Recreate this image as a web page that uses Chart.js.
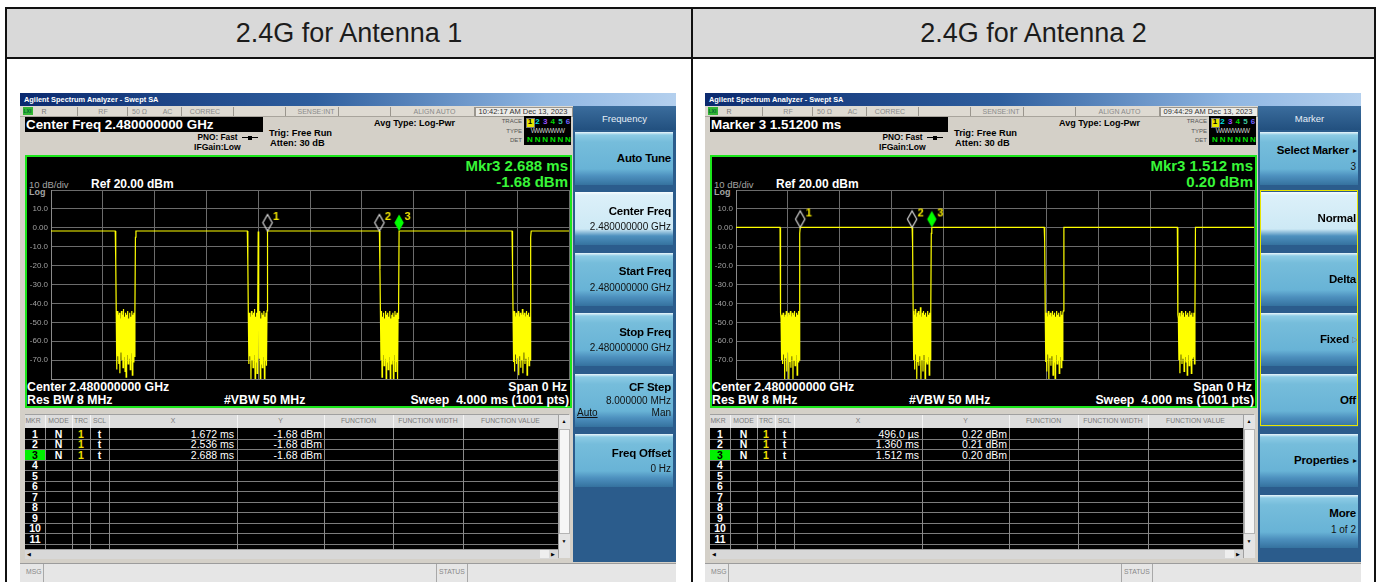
<!DOCTYPE html>
<html>
<head>
<meta charset="utf-8">
<title>2.4G Antenna 1 / Antenna 2</title>
<script src="https://cdn.jsdelivr.net/npm/chart.js@4.4.1/dist/chart.umd.min.js"></script>
<style>
html, body { margin: 0; padding: 0; background: #fff; }
body { position: relative; width: 1381px; height: 582px; overflow: hidden; font-family: "Liberation Sans", Arial, sans-serif; }
.frame { position: absolute; left: 5px; top: 7px; width: 1367px; height: 620px; border: 2px solid #111; }
.head { position: absolute; top: 9px; height: 48px; line-height: 48px; background: #d9d9d9; color: #1c1c1c; font-size: 27px; text-align: center; }
.rule { position: absolute; background: #111; }
.sa { position: absolute; top: 93px; width: 656px; height: 489px; background: #d4d0c8; overflow: hidden; }
.sa div { position: absolute; white-space: pre; }
.sa canvas { position: absolute; }
.sk { background: linear-gradient(to bottom, #eaf6fb 0px, #8ccbe5 3px, #76bddb 10px, #68b3d6 37px, #4d90be 44px, #35729f 53px); }
.sk.on { background: linear-gradient(to bottom, #f8fdff 0px, #dcf0f9 3px, #cde9f5 37px, #4d90be 44px, #35729f 53px); }
</style>
</head>
<body>
<div class="frame"></div>
<div class="head" style="left:7px;width:684px">2.4G for Antenna 1</div>
<div class="head" style="left:693px;width:681px">2.4G for Antenna 2</div>
<div class="rule" style="left:5px;top:57px;width:1371px;height:2px"></div>
<div class="rule" style="left:691px;top:7px;width:2px;height:600px"></div>
<div class="sa" id="sa1" style="left:20px"></div>
<div class="sa" id="sa2" style="left:705px"></div>

<script>
// sweep: 1001 points over 4 ms, display -80..20 dBm
const sweepPoints = 1001;
const sweepMs = 4;
const yMin = -80;
const yMax = 20;

// Antenna 1 - level while the carrier is on, and the off gaps (start index + samples)
const ant1Level = -1.68;
const ant1GapStart = [125, 380, 635, 891];
const ant1Gap1 = [-18, -47, -75, -44, -68, -46, -72, -45, -77, -48,
                  -66, -44, -70, -46, -74, -43, -68, -47, -76, -45,
                  -79, -46, -67, -44, -72, -48, -69, -45, -75, -47,
                  -66, -44, -78, -46, -71, -45, -68, -44, -5];
const ant1Gap2 = [-19, -48, -72, -45, -68, -47, -80, -44, -70, -46,
                  -74, -45, -67, -43, -80, -47, -71, -45, -77, -46,
                  -2, -46, -69, -44, -80, -48, -72, -45, -74, -46,
                  -68, -44, -80, -47, -70, -45, -73, -44];
const ant1Gap3 = [-22, -46, -70, -44, -79, -47, -67, -45, -73, -48,
                  -69, -44, -80, -46, -71, -45, -75, -47, -68, -44,
                  -80, -48, -72, -46, -70, -45, -80, -47, -67, -44,
                  -76, -46, -71, -45, -80, -48, -44];
const ant1Gap4 = [-20, -46, -71, -44, -76, -47, -67, -45, -72, -46,
                  -69, -44, -78, -47, -68, -45, -74, -46, -70, -43,
                  -77, -46, -66, -45, -72, -47, -69, -44, -78, -46,
                  -68, -45, -73, -47, -70, -5];
const ant1MkrTime = [1.672, 2.536, 2.688];
const ant1MkrLevel = [-1.68, -1.68, -1.68];

// Antenna 2
const ant2Level = 0.21;
const ant2GapStart = [86, 341, 596, 853];
const ant2Gap1 = [-45, -48, -70, -46, -72, -45, -67, -47, -80, -46,
                  -69, -44, -76, -47, -66, -45, -80, -46, -71, -44,
                  -74, -47, -68, -45, -80, -46, -70, -44, -73, -47,
                  -67, -45, -78, -46, -71, -44, -70, -3];
const ant2Gap2 = [-10, -44, -70, -46, -75, -43, -67, -47, -80, -45,
                  -71, -44, -73, -46, -68, -42, -80, -47, -70, -45,
                  -76, -44, -67, -46, -80, -45, -71, -47, -72, -44,
                  -68, -46, -78, -45, -70, -44, -3];
const ant2Gap3 = [-8, -46, -71, -45, -76, -47, -67, -44, -80, -46,
                  -69, -45, -73, -47, -68, -44, -78, -46, -71, -45,
                  -80, -47, -67, -44, -72, -46, -70, -45, -77, -47,
                  -68, -44, -74, -46, -70, -45, -44];
const ant2Gap4 = [-46, -48, -70, -45, -77, -47, -67, -44, -72, -46,
                  -69, -45, -76, -47, -68, -44, -71, -46, -78, -45,
                  -67, -47, -73, -44, -70, -46, -77, -45, -69, -47,
                  -68, -45, -72, -44];
const ant2MkrTime = [0.496, 1.360, 1.512];
const ant2MkrLevel = [0.22, 0.21, 0.20];

const yTickLabels = ['10.0', '0.00', '-10.0', '-20.0', '-30.0', '-40.0', '-50.0', '-60.0', '-70.0'];

const ant1Keys = [
    { main: 'Auto Tune' },
    { main: 'Center Freq', sub: '2.480000000 GHz', on: true },
    { main: 'Start Freq', sub: '2.480000000 GHz' },
    { main: 'Stop Freq', sub: '2.480000000 GHz' },
    { main: 'CF Step', sub: '8.000000 MHz', autoMan: true },
    { main: 'Freq Offset', sub: '0 Hz' }
];
const ant2Keys = [
    { main: 'Select Marker', sub: '3', arrow: '\u25B8' },
    { main: 'Normal', on: true },
    { main: 'Delta' },
    { main: 'Fixed', arrow: '\u25B7' },
    { main: 'Off' },
    { main: 'Properties', arrow: '\u25B8' },
    { main: 'More', sub: '1 of 2' }
];

function el(parent, css, text) {
    const d = document.createElement('div');
    d.style.cssText = css;
    if (text !== undefined) d.textContent = text;
    parent.appendChild(d);
    return d;
}

function label(parent, text, x, yc, size, extra, align) {
    let css = `font-size:${size}px;line-height:${size}px;top:${(yc - 0.49 * size).toFixed(1)}px;`;
    if (align === 'right') css += `left:${x - 300}px;width:300px;text-align:right;`;
    else if (align === 'center') css += `left:${x - 150}px;width:300px;text-align:center;`;
    else css += `left:${x}px;`;
    return el(parent, css + (extra || ''), text);
}

function fmtTime(t) {
    return t < 1 ? (t * 1000).toFixed(1) + ' \u00B5s' : t.toFixed(3) + ' ms';
}
function fmtLevel(v) {
    return v.toFixed(2) + ' dBm';
}

function markerIcon(num, filled) {
    // tip of the diamond sits on the canvas centre (16,21)
    const c = document.createElement('canvas');
    c.width = 32; c.height = 42;
    const g = c.getContext('2d');
    g.beginPath();
    g.moveTo(16, 4.5); g.lineTo(20.7, 12.8); g.lineTo(16, 21); g.lineTo(11.3, 12.8); g.closePath();
    if (filled) {
        g.fillStyle = '#00ff00'; g.fill();
    } else {
        g.strokeStyle = '#d8d8d8'; g.lineWidth = 1.2; g.stroke();
    }
    g.fillStyle = '#f2e600';
    g.font = 'bold 11px "Liberation Sans", Arial';
    g.fillText(String(num), 21.5, 9.5);
    return c;
}

function buildAnalyzer(root, cfg) {
    // title + status line
    el(root, 'left:0;top:0;width:656px;height:13px;background:linear-gradient(to right,#0b2a6f 0%,#2f5f9e 45%,#8fb6e2 80%,#b4d0ee 100%);');
    label(root, 'Agilent Spectrum Analyzer - Swept SA', 4, 6.5, 7.4, 'color:#fff;font-weight:bold;');
    el(root, 'left:0;top:13px;width:553px;height:10px;background:#dedad2;border-bottom:1px solid #a8a49c;');
    el(root, 'left:3px;top:14px;width:10px;height:8px;background:#34b534;');
    label(root, 'LXI', 3.5, 18.3, 5, 'color:#063;font-weight:bold;');
    label(root, 'R', 24, 18.5, 7, 'color:#777;', 'center');
    [57, 107, 161, 213, 265, 318, 370, 454].forEach(x => el(root, `left:${x}px;top:14px;width:1px;height:9px;background:#9a968e;`));
    const st = 'color:#8a8a8a;';
    label(root, 'RF', 83, 18.5, 7, st, 'center');
    label(root, '50 \u03A9', 119.5, 18.5, 7, st, 'center');
    label(root, 'AC', 147.5, 18.5, 7, st, 'center');
    label(root, 'CORREC', 185, 18.5, 7, st, 'center');
    label(root, 'SENSE:INT', 296, 18.5, 7, st, 'center');
    label(root, 'ALIGN AUTO', 414.5, 18.5, 7, st, 'center');
    el(root, 'left:455px;top:14px;width:96px;height:8px;background:#ecebe8;border:1px solid #9a968e;');
    label(root, cfg.clock, 503, 18.5, 7.5, 'color:#333;', 'center');

    // active function box + settings
    el(root, 'left:5px;top:24px;width:238px;height:15px;background:#000;');
    label(root, cfg.boxText, 6, 31.5, 13.4, 'color:#fff;font-weight:bold;');
    label(root, 'Avg Type: Log-Pwr', 354, 30, 9, 'color:#000;font-weight:bold;');
    label(root, 'Trig: Free Run', 249, 41, 9.3, 'color:#000;font-weight:bold;');
    label(root, 'Atten: 30 dB', 250, 51, 9.3, 'color:#000;font-weight:bold;');
    label(root, 'PNO: Fast', 177.5, 44, 8.3, 'color:#000;font-weight:bold;');
    el(root, 'left:222px;top:44px;width:16px;height:1px;background:#000;');
    el(root, 'left:228px;top:42.5px;width:4px;height:4px;background:#000;');
    label(root, 'IFGain:Low', 174, 54.5, 8.6, 'color:#000;font-weight:bold;');

    // trace block
    label(root, 'TRACE', 502, 28, 6, 'color:#555;', 'right');
    label(root, 'TYPE', 502, 37.5, 6, 'color:#555;', 'right');
    label(root, 'DET', 502, 47, 6, 'color:#555;', 'right');
    el(root, 'left:504px;top:23px;width:47px;height:29px;background:#000;');
    el(root, 'left:506px;top:24.5px;width:7px;height:8px;background:#e8e800;border:1px solid #777;');
    const trc = ['#000', '#00e0e0', '#9a4dff', '#00d800', '#3fc8a0', '#7060ff'];
    trc.forEach((c, k) => label(root, String(k + 1), 510 + k * 7.6, 28.6, 8, `color:${c};font-weight:bold;`, 'center'));
    label(root, 'WWWWWW', 527.5, 38, 6.6, 'color:#cfcfcf;letter-spacing:-0.6px;', 'center');
    ['N', 'N', 'N', 'N', 'N', 'N'].forEach((n, k) => label(root, n, 510 + k * 7.6, 47.3, 8, 'color:#00e000;font-weight:bold;', 'center'));

    // graticule frame
    el(root, 'left:5px;top:62px;width:543px;height:249px;background:#000;border:2px solid #1be61b;');
    const mk = cfg.mkrTimes.length - 1;
    label(root, 'Mkr' + (mk + 1) + ' ' + fmtTime(cfg.mkrTimes[mk]), 548, 72, 15, 'color:#38f538;font-weight:bold;', 'right');
    label(root, fmtLevel(cfg.mkrLevels[mk]), 548, 88, 15, 'color:#38f538;font-weight:bold;', 'right');
    label(root, '10 dB/div', 9, 92, 9.5, 'color:#a4a4a4;');
    label(root, 'Log', 9, 99.5, 9, 'color:#a4a4a4;font-weight:bold;');
    label(root, 'Ref 20.00 dBm', 71, 91, 12, 'color:#fff;font-weight:bold;');
    label(root, 'Center 2.480000000 GHz', 7, 294, 12.3, 'color:#fff;font-weight:bold;');
    label(root, 'Span 0 Hz', 547, 294, 12.3, 'color:#fff;font-weight:bold;', 'right');
    label(root, 'Res BW 8 MHz', 7, 306.5, 12.3, 'color:#fff;font-weight:bold;');
    label(root, '#VBW 50 MHz', 204, 306.5, 12.3, 'color:#fff;font-weight:bold;');
    label(root, 'Sweep  4.000 ms (1001 pts)', 549, 306.5, 12.3, 'color:#fff;font-weight:bold;', 'right');

    const cv = document.createElement('canvas');
    cv.id = cfg.canvasId;
    cv.width = 543; cv.height = 201;
    cv.style.left = '7px'; cv.style.top = '91px';
    root.appendChild(cv);

    // marker table
    const edges = [5, 25, 52, 70, 89, 217, 304, 373, 443, 538];
    const names = ['MKR', 'MODE', 'TRC', 'SCL', 'X', 'Y', 'FUNCTION', 'FUNCTION WIDTH', 'FUNCTION VALUE'];
    el(root, 'left:5px;top:321px;width:544px;height:14px;background:#dcdcdc;border-top:1px solid #a0a0a0;');
    names.forEach((n, k) => {
        const cx = k === 0 ? edges[0] + 8 : (edges[k] + edges[k + 1]) / 2;
        label(root, n, cx, 328, 6.8, 'color:#7a7a7a;', 'center');
        if (k > 0) el(root, `left:${edges[k]}px;top:322px;width:1px;height:13px;background:#f4f4f4;`);
    });
    el(root, 'left:5px;top:335px;width:533px;height:121px;background:#000;overflow:hidden;');
    for (let r = 0; r < 12; r++) {
        const top = 336 + r * 10.5;
        el(root, `left:5px;top:${top + 9.5}px;width:533px;height:1px;background:#7c7c7c;`);
        if (r === 2) el(root, `left:5px;top:${top - 0.5}px;width:20px;height:10px;background:#00f000;`);
        if (r < 11) label(root, String(r + 1), 15, top + 5, 10.5, `color:${r === 2 ? '#000' : '#fff'};font-weight:bold;`, 'center');
        if (r < cfg.mkrTimes.length) {
            label(root, 'N', 38.5, top + 5, 10.5, 'color:#fff;font-weight:bold;', 'center');
            label(root, '1', 61, top + 5, 10.5, 'color:#f0e000;font-weight:bold;', 'center');
            label(root, 't', 79.5, top + 5, 10.5, 'color:#fff;font-weight:bold;', 'center');
            label(root, fmtTime(cfg.mkrTimes[r]), 214, top + 5, 10.5, 'color:#fff;', 'right');
            label(root, fmtLevel(cfg.mkrLevels[r]), 302, top + 5, 10.5, 'color:#fff;', 'right');
        }
    }
    edges.slice(1).forEach(x => el(root, `left:${x}px;top:335px;width:1px;height:121px;background:#8a8a8a;`));
    // scrollbars
    el(root, 'left:538px;top:322px;width:11px;height:143px;background:#e4e4e4;border-left:1px solid #a0a0a0;');
    el(root, 'left:539px;top:336px;width:9px;height:103px;background:#f6f6f6;border:1px solid #b4b4b4;');
    label(root, '\u25B2', 544, 328, 5, 'color:#000;', 'center');
    label(root, '\u25BC', 544, 448, 5, 'color:#000;', 'center');
    el(root, 'left:5px;top:456px;width:533px;height:9px;background:#d8d8d8;border-top:1px solid #a0a0a0;');
    label(root, '\u25C0', 9, 461, 5, 'color:#000;', 'center');
    el(root, 'left:520px;top:457px;width:9px;height:8px;background:#eeeeee;');
    label(root, '\u25B6', 533, 461, 5, 'color:#000;', 'center');

    // message line
    el(root, 'left:0;top:470px;width:656px;height:19px;background:#e6e6e6;border-top:1px solid #9c9c9c;');
    label(root, 'MSG', 6, 479, 6.8, 'color:#888;');
    el(root, 'left:23px;top:471px;width:1px;height:18px;background:#a8a8a8;');
    label(root, 'STATUS', 419, 479, 6.8, 'color:#888;');
    el(root, 'left:416px;top:471px;width:1px;height:18px;background:#a8a8a8;');
    el(root, 'left:447px;top:471px;width:1px;height:18px;background:#a8a8a8;');

    // softkey panel
    el(root, 'left:553px;top:13px;width:103px;height:456px;background:#2b5c8c;');
    el(root, 'left:553px;top:13px;width:103px;height:24px;background:linear-gradient(#3b6d9d,#22507f);');
    label(root, cfg.panelTitle, 604.5, 26, 9.5, 'color:#e6eef6;', 'center');
    cfg.keys.forEach((k, i) => {
        const top = 38.7 + i * 60.5;
        el(root, `left:555px;top:${top}px;width:98px;height:53px;`).className = 'sk' + (k.on ? ' on' : '');
        const right = k.arrow ? 644 : 651;
        let mainY = k.sub ? top + 19 : top + 26.5;
        let subY = top + 35;
        if (k.autoMan) { mainY = top + 13.5; subY = top + 27; }
        label(root, k.main, right, mainY, 11.5, 'color:#000;font-weight:bold;letter-spacing:-0.2px;', 'right');
        if (k.arrow) label(root, k.arrow, 650, mainY + 0.5, 8, `color:${k.arrow === '\u25B7' ? '#777' : '#000'};`, 'center');
        if (k.sub) label(root, k.sub, 651, subY, 10, 'color:#111;', 'right');
        if (k.autoMan) {
            label(root, 'Auto', 557, top + 39, 10, 'color:#111;text-decoration:underline;');
            label(root, 'Man', 651, top + 39, 10, 'color:#111;', 'right');
        }
    });
    if (cfg.yellowFrame) el(root, 'left:555px;top:97px;width:96px;height:234px;border:1.5px solid #e8e400;');
}

function buildTrace(level, starts, gaps) {
    const pts = [];
    for (let i = 0; i < sweepPoints; i++) {
        let v = level;
        starts.forEach((s, k) => {
            if (i >= s && i < s + gaps[k].length) v = gaps[k][i - s];
        });
        pts.push({ x: i * sweepMs / (sweepPoints - 1), y: v });
    }
    return pts;
}

function noPadding(s) {
    s.paddingTop = 0; s.paddingBottom = 0; s.paddingLeft = 0; s.paddingRight = 0;
}

function drawSweep(canvasId, level, starts, gaps, mkrTime, mkrLevel) {
    const icons = mkrTime.map((t, k) => markerIcon(k + 1, k === mkrTime.length - 1));
    return new Chart(document.getElementById(canvasId), {
        type: 'line',
        data: {
            datasets: [{
                data: buildTrace(level, starts, gaps),
                borderColor: '#ffff00',
                borderWidth: 1.2,
                pointRadius: 0,
                tension: 0,
                order: 2
            }, {
                type: 'scatter',
                data: mkrTime.map((t, k) => ({ x: t, y: mkrLevel[k] })),
                pointStyle: ctx => icons[ctx.dataIndex],
                pointRadius: 10,
                clip: false,
                order: 1
            }]
        },
        options: {
            responsive: false,
            animation: false,
            devicePixelRatio: 1,
            events: [],
            layout: { autoPadding: false, padding: { top: 6, bottom: 6, left: 0, right: 1 } },
            plugins: { legend: { display: false }, tooltip: { enabled: false } },
            scales: {
                x: {
                    type: 'linear', min: 0, max: sweepMs,
                    ticks: { display: false, stepSize: sweepMs / 10 },
                    grid: { color: '#6c6c6c', drawTicks: false },
                    border: { color: '#8a8a8a' },
                    afterFit: s => { s.height = 0; noPadding(s); }
                },
                y: {
                    min: yMin, max: yMax,
                    ticks: {
                        stepSize: 10, padding: 3, color: '#a0a0a0',
                        font: { size: 8, family: '"Liberation Sans", Arial' },
                        callback: v => yTickLabels[(10 - v) / 10] || ''
                    },
                    grid: { color: '#6c6c6c', drawTicks: false },
                    border: { color: '#8a8a8a' },
                    afterFit: s => { s.width = 24; noPadding(s); }
                }
            }
        }
    });
}

buildAnalyzer(document.getElementById('sa1'), {
    canvasId: 'sweep1', boxText: 'Center Freq 2.480000000 GHz', clock: '10:42:17 AM Dec 13, 2023',
    mkrTimes: ant1MkrTime, mkrLevels: ant1MkrLevel, panelTitle: 'Frequency', keys: ant1Keys
});
buildAnalyzer(document.getElementById('sa2'), {
    canvasId: 'sweep2', boxText: 'Marker 3 1.51200 ms', clock: '09:44:29 AM Dec 13, 2023',
    mkrTimes: ant2MkrTime, mkrLevels: ant2MkrLevel, panelTitle: 'Marker', keys: ant2Keys, yellowFrame: true
});

drawSweep('sweep1', ant1Level, ant1GapStart, [ant1Gap1, ant1Gap2, ant1Gap3, ant1Gap4], ant1MkrTime, ant1MkrLevel);
drawSweep('sweep2', ant2Level, ant2GapStart, [ant2Gap1, ant2Gap2, ant2Gap3, ant2Gap4], ant2MkrTime, ant2MkrLevel);
</script>
</body>
</html>
